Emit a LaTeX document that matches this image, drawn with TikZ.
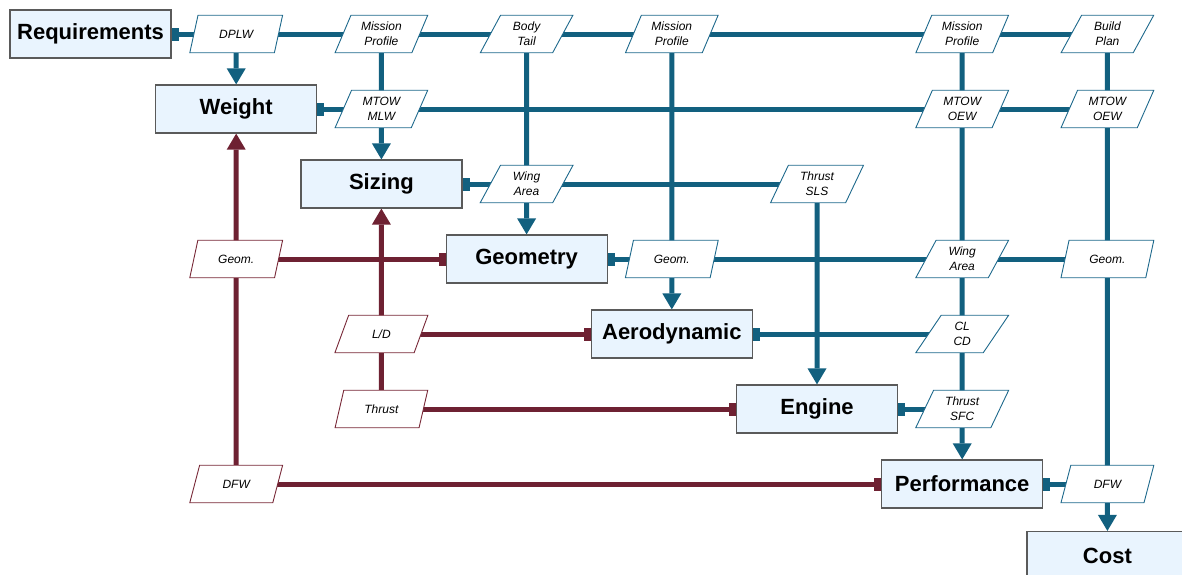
\documentclass[tikz,border=0pt]{standalone}
\usepackage{fontspec}
\setmainfont{Liberation Sans}
\usetikzlibrary{arrows.meta,shapes.geometric,backgrounds}
\definecolor{fblue}{RGB}{18,96,127}
\definecolor{fred}{RGB}{110,33,50}
\definecolor{boxfill}{RGB}{233,244,254}
\definecolor{boxline}{RGB}{90,90,90}
\definecolor{pblue}{RGB}{30,105,140}
\definecolor{pred}{RGB}{120,40,55}
\tikzset{
  sqtip/.tip={Rectangle[length=7pt,width=13pt,line width=0pt]},
  arrtip/.tip={Triangle[length=16pt,width=19pt,line width=0pt]},
}
\begin{document}
\begin{tikzpicture}[x=1pt,y=-1pt,
  proc/.style={draw=boxline,line width=1.2pt,fill=boxfill,minimum width=161pt,minimum height=48pt,inner sep=0pt,font=\fontsize{22}{26}\selectfont\bfseries},
  dat/.style={trapezium,trapezium left angle=66,trapezium right angle=114,trapezium stretches=true,minimum width=93pt,minimum height=37.5pt,inner sep=0pt,fill=white,line width=0.9pt,align=center,font=\fontsize{12}{15}\selectfont\itshape},
  bdat/.style={dat,draw=pblue},
  rdat/.style={dat,draw=pred},
  bline/.style={draw=fblue,line width=5pt},
  rline/.style={draw=fred,line width=5pt}]
\useasboundingbox (0,0) rectangle (1182,574);
\clip (0,0) rectangle (1182,574);
% process boxes
\node[proc] (req)  at (90.5,34)  {Requirements};
\node[proc] (wgt)  at (236.2,109) {Weight};
\node[proc] (siz)  at (381.4,184) {Sizing};
\node[proc] (geo)  at (526.6,259) {Geometry};
\node[proc] (aero) at (671.8,334) {Aerodynamic};
\node[proc] (eng)  at (817,409)   {Engine};
\node[proc] (perf) at (962.2,484) {Performance};
\node[proc] (cost) at (1107.4,555.5) {Cost};
% data nodes
\node[bdat] (dplw) at (236.2,34)  {DPLW};
\node[bdat] (mp1)  at (381.4,34)  {Mission\\Profile};
\node[bdat] (bt)   at (526.6,34)  {Body\\Tail};
\node[bdat] (mp2)  at (671.8,34)  {Mission\\Profile};
\node[bdat] (mp3)  at (962.2,34)  {Mission\\Profile};
\node[bdat] (bp)   at (1107.4,34) {Build\\Plan};
\node[bdat] (mtm)  at (381.4,109) {MTOW\\MLW};
\node[bdat] (mto1) at (962.2,109) {MTOW\\OEW};
\node[bdat] (mto2) at (1107.4,109) {MTOW\\OEW};
\node[bdat] (wa1)  at (526.6,184) {Wing\\Area};
\node[bdat] (tsls) at (817,184)   {Thrust\\SLS};
\node[rdat] (geor) at (236.2,259) {Geom.};
\node[bdat] (geo1) at (671.8,259) {Geom.};
\node[bdat] (wa2)  at (962.2,259) {Wing\\Area};
\node[bdat] (geo2) at (1107.4,259) {Geom.};
\node[rdat] (ld)   at (381.4,334) {L/D};
\node[bdat] (clcd) at (962.2,334) {CL\\CD};
\node[rdat] (thr)  at (381.4,409) {Thrust};
\node[bdat] (tsfc) at (962.2,409) {Thrust\\SFC};
\node[rdat] (dfwr) at (236.2,484) {DFW};
\node[bdat] (dfwb) at (1107.4,484) {DFW};
\begin{scope}[on background layer]
% blue feed-forward rows
\draw[bline,sqtip-] (req.east) -- (bp.center);
\draw[bline,sqtip-] (wgt.east) -- (mto2.center);
\draw[bline,sqtip-] (siz.east) -- (tsls.center);
\draw[bline,sqtip-] (geo.east) -- (geo2.center);
\draw[bline,sqtip-] (aero.east) -- (clcd.center);
\draw[bline,sqtip-] (eng.east) -- (tsfc.center);
\draw[bline,sqtip-] (perf.east) -- (dfwb.center);
% blue columns
\draw[bline,-arrtip] (dplw) -- (wgt);
\draw[bline,-arrtip] (mp1) -- (siz);
\draw[bline,-arrtip] (bt) -- (geo);
\draw[bline,-arrtip] (mp2) -- (aero);
\draw[bline,-arrtip] (tsls) -- (eng);
\draw[bline,-arrtip] (mp3) -- (perf);
\draw[bline,-arrtip] (bp) -- (cost);
% red feedback
\draw[rline,-sqtip] (geor.center) -- (geo.west);
\draw[rline,-sqtip] (ld.center) -- (aero.west);
\draw[rline,-sqtip] (thr.center) -- (eng.west);
\draw[rline,-sqtip] (dfwr.center) -- (perf.west);
\draw[rline,-arrtip] (dfwr) -- (wgt);
\draw[rline,-arrtip] (thr) -- (siz);
\end{scope}
\end{tikzpicture}
\end{document}
